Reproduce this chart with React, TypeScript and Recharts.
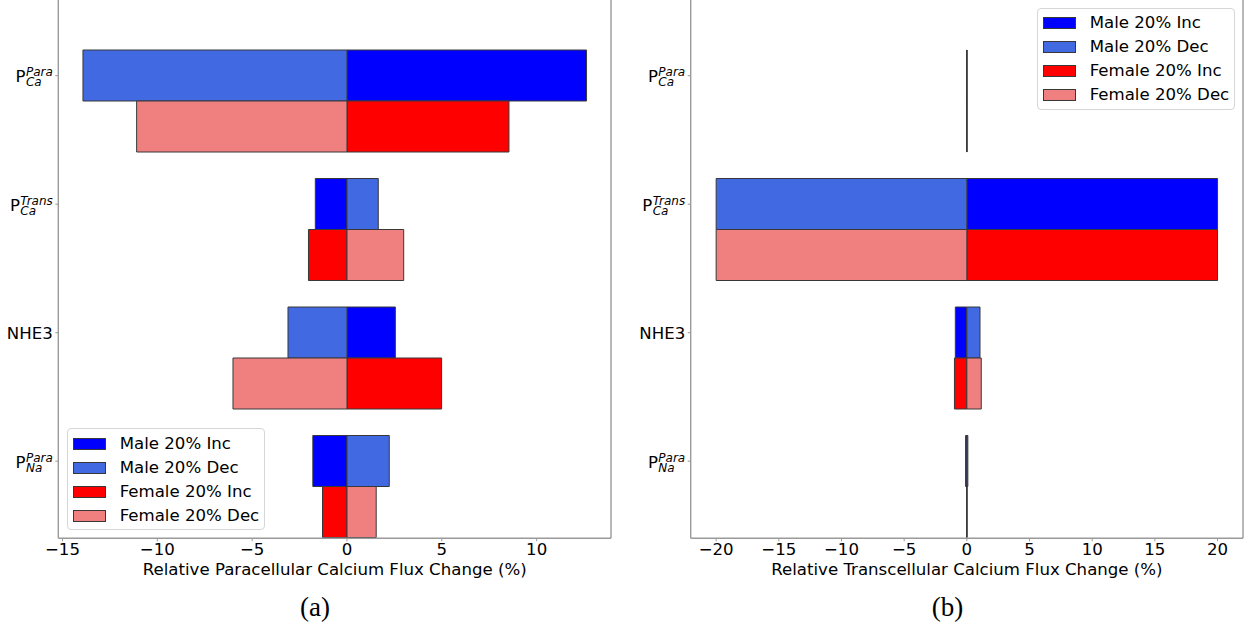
import React from "react";
import { Bar, BarChart, Legend, XAxis, YAxis } from "recharts";

// categories (y axis), top to bottom
const categories = ["PCaPara", "PCaTrans", "NHE3", "PNaPara"];
const categoryMain = ["P", "P", "NHE3", "P"];
const categorySup = ["Para", "Trans", "", "Para"];
const categorySub = ["Ca", "Ca", "", "Na"];

const seriesNames = ["Male 20% Inc", "Male 20% Dec", "Female 20% Inc", "Female 20% Dec"];
const seriesKeys = ["maleInc", "maleDec", "femaleInc", "femaleDec"];
const seriesStacks = ["male", "male", "female", "female"];
const seriesColors = ["#0000ff", "#4169e1", "#ff0000", "#f08080"];

// (a) relative paracellular calcium flux change (%)
const paraMaleInc = [12.63, -1.67, 2.55, -1.8];
const paraMaleDec = [-13.92, 1.65, -3.11, 2.23];
const paraFemaleInc = [8.54, -2.03, 4.99, -1.29];
const paraFemaleDec = [-11.09, 2.99, -6.01, 1.54];
const paraTicks = [-15, -10, -5, 0, 5, 10];
const paraDomain = [-15.22, 13.92];

// (b) relative transcellular calcium flux change (%)
const transMaleInc = [0.01, 20.0, -0.92, -0.1];
const transMaleDec = [-0.01, -20.0, 1.05, 0.08];
const transFemaleInc = [0.01, 20.0, -0.99, -0.01];
const transFemaleDec = [-0.01, -20.0, 1.15, 0.01];
const transTicks = [-20, -15, -10, -5, 0, 5, 10, 15, 20];
const transDomain = [-22.03, 22.03];

// page geometry
const CHART_TOP = -20;
const CHART_H = 647;
const PLOT_TOP = -2;
const PLOT_BOTTOM = 538.3;
const ROW_STEP = 128.5;
const FIRST_ROW = 75.7;
const X_AXIS_H = 40;
const BAND0_TOP = FIRST_ROW - 0.3 * ROW_STEP;
const PAD_TOP = BAND0_TOP - PLOT_TOP;
const PAD_BOTTOM = PLOT_BOTTOM - (BAND0_TOP + categories.length * ROW_STEP);

const SPINE = "#9a9a9a";
const EDGE = "#383838";
const FONT = "'DejaVu Sans', sans-serif";
const FS = 16.6;
const SMALL_FS = 12;

let measureCtx: CanvasRenderingContext2D | null = null;
function textWidth(s: string, font: string): number {
  if (!measureCtx) measureCtx = document.createElement("canvas").getContext("2d");
  if (!measureCtx) return s.length * 7;
  measureCtx.font = font;
  return measureCtx.measureText(s).width;
}

const fmtTick = (v: number) => (v < 0 ? "\u2212" + Math.abs(v) : String(v));

function XTick(props: any) {
  const { x, y, payload } = props;
  return (
    <text x={x} y={y} dy={12} textAnchor="middle" fontSize={FS} fill="#000" fontFamily={FONT}>
      {fmtTick(payload.value)}
    </text>
  );
}

function makeCategoryTick(axisX: number) {
  return function CategoryTick(props: any) {
    const { y, payload } = props;
    const i = categories.indexOf(payload.value);
    const ty = y - 0.2 * ROW_STEP; // male bar centre, like matplotlib's tick
    const right = axisX - 5.5;
    const sup = categorySup[i];
    const sub = categorySub[i];
    const tick = <line x1={axisX - 3} x2={axisX} y1={ty} y2={ty} stroke={SPINE} strokeWidth={1} />;
    if (!sup) {
      return (
        <g>
          {tick}
          <text x={right} y={ty} dy={6} textAnchor="end" fontSize={FS} fill="#000" fontFamily={FONT}>
            {categoryMain[i]}
          </text>
        </g>
      );
    }
    const smallFont = `italic ${SMALL_FS}px 'DejaVu Sans'`;
    const w = Math.max(textWidth(sup, smallFont), textWidth(sub, smallFont));
    const sx = right - w;
    return (
      <g fontFamily={FONT} fill="#000">
        {tick}
        <text x={sx - 0.3} y={ty + 6.5} textAnchor="end" fontSize={FS}>
          {categoryMain[i]}
        </text>
        <text x={sx} y={ty + 0.5} fontSize={SMALL_FS} fontStyle="italic">
          {sup}
        </text>
        <text x={sx} y={ty + 10.5} fontSize={SMALL_FS} fontStyle="italic">
          {sub}
        </text>
      </g>
    );
  };
}

function LegendBox(props: any) {
  const payload = [...(props.payload ?? [])].sort(
    (a: any, b: any) => seriesNames.indexOf(a.value) - seriesNames.indexOf(b.value),
  );
  return (
    <div
      style={{
        position: "relative",
        width: 198,
        height: 102,
        boxSizing: "border-box",
        border: "1px solid #d6d6d6",
        borderRadius: 4,
        background: "rgba(255,255,255,0.85)",
        fontFamily: FONT,
      }}
    >
      {payload.map((p: any, i: number) => {
        const cy = 14.5 + i * 24;
        return (
          <React.Fragment key={p.value}>
            <div
              style={{
                position: "absolute",
                left: 5,
                top: cy - 6,
                width: 33,
                height: 12,
                boxSizing: "border-box",
                background: p.color,
                border: `1px solid ${EDGE}`,
              }}
            />
            <div
              style={{
                position: "absolute",
                left: 52,
                top: cy - 10,
                fontSize: FS,
                lineHeight: "19px",
                color: "#000",
                whiteSpace: "nowrap",
              }}
            >
              {p.value}
            </div>
          </React.Fragment>
        );
      })}
    </div>
  );
}

interface PanelProps {
  left: number;
  width: number;
  plotLeft: number;
  plotRight: number;
  yAxisWidth: number;
  domain: number[];
  ticks: number[];
  series: number[][];
  legendLeft: number;
  legendTop: number;
}

function Panel(p: PanelProps) {
  const data = categories.map((name, i) => {
    const row: Record<string, string | number> = { name };
    seriesKeys.forEach((k, s) => {
      row[k] = p.series[s][i];
    });
    return row;
  });
  const margin = {
    top: PLOT_TOP - CHART_TOP,
    bottom: CHART_H - (PLOT_BOTTOM - CHART_TOP) - X_AXIS_H,
    left: p.plotLeft - p.left - p.yAxisWidth,
    right: p.left + p.width - p.plotRight - 1,
  };
  return (
    <div style={{ position: "absolute", left: p.left, top: CHART_TOP }}>
      <BarChart
        width={p.width}
        height={CHART_H}
        data={data}
        layout="vertical"
        stackOffset="sign"
        margin={margin}
        barCategoryGap="10%"
        barGap={0}
      >
        <XAxis
          type="number"
          domain={p.domain}
          allowDataOverflow
          ticks={p.ticks}
          interval={0}
          height={X_AXIS_H}
          tick={<XTick />}
          tickSize={3}
          tickLine={{ stroke: SPINE }}
          axisLine={{ stroke: SPINE, strokeWidth: 1.4 }}
        />
        <YAxis
          type="category"
          dataKey="name"
          width={p.yAxisWidth}
          interval={0}
          padding={{ top: PAD_TOP, bottom: PAD_BOTTOM }}
          tick={makeCategoryTick(p.plotLeft - p.left)}
          tickLine={false}
          axisLine={{ stroke: SPINE, strokeWidth: 1.4 }}
        />
        <YAxis
          yAxisId="frame"
          orientation="right"
          type="category"
          dataKey="name"
          width={1}
          tick={false}
          tickLine={false}
          axisLine={{ stroke: SPINE, strokeWidth: 1.4 }}
        />
        {seriesKeys.map((k, s) => (
          <Bar
            key={k}
            dataKey={k}
            name={seriesNames[s]}
            stackId={seriesStacks[s]}
            fill={seriesColors[s]}
            stroke={EDGE}
            strokeWidth={1}
            isAnimationActive={false}
          />
        ))}
        <Legend
          layout="vertical"
          align="center"
          verticalAlign="middle"
          wrapperStyle={{ left: p.legendLeft - p.left, top: p.legendTop - CHART_TOP, width: 198, height: 102 }}
          content={<LegendBox />}
        />
      </BarChart>
    </div>
  );
}

export default function App() {
  return (
    <div
      style={{
        position: "absolute",
        left: 0,
        top: 0,
        width: 1248,
        height: 627,
        overflow: "hidden",
        background: "#fff",
        fontFamily: FONT,
      }}
    >
      <Panel
        left={0}
        width={626}
        plotLeft={58.3}
        plotRight={611}
        yAxisWidth={58}
        domain={paraDomain}
        ticks={paraTicks}
        series={[paraMaleInc, paraMaleDec, paraFemaleInc, paraFemaleDec]}
        legendLeft={66.7}
        legendTop={428}
      />
      <Panel
        left={626}
        width={622}
        plotLeft={690.7}
        plotRight={1243}
        yAxisWidth={60}
        domain={transDomain}
        ticks={transTicks}
        series={[transMaleInc, transMaleDec, transFemaleInc, transFemaleDec]}
        legendLeft={1036.7}
        legendTop={7.5}
      />
      <svg
        width={1248}
        height={627}
        style={{ position: "absolute", left: 0, top: 0, pointerEvents: "none" }}
      >
        <text x={334.7} y={575} textAnchor="middle" fontSize={FS} fontFamily={FONT} fill="#000">
          Relative Paracellular Calcium Flux Change (%)
        </text>
        <text x={966.9} y={575} textAnchor="middle" fontSize={FS} fontFamily={FONT} fill="#000">
          Relative Transcellular Calcium Flux Change (%)
        </text>
        <text x={315} y={615.5} textAnchor="middle" fontSize={27} fontFamily="'Liberation Serif', serif" fill="#000">
          (a)
        </text>
        <text x={947.5} y={615.5} textAnchor="middle" fontSize={27} fontFamily="'Liberation Serif', serif" fill="#000">
          (b)
        </text>
      </svg>
    </div>
  );
}
